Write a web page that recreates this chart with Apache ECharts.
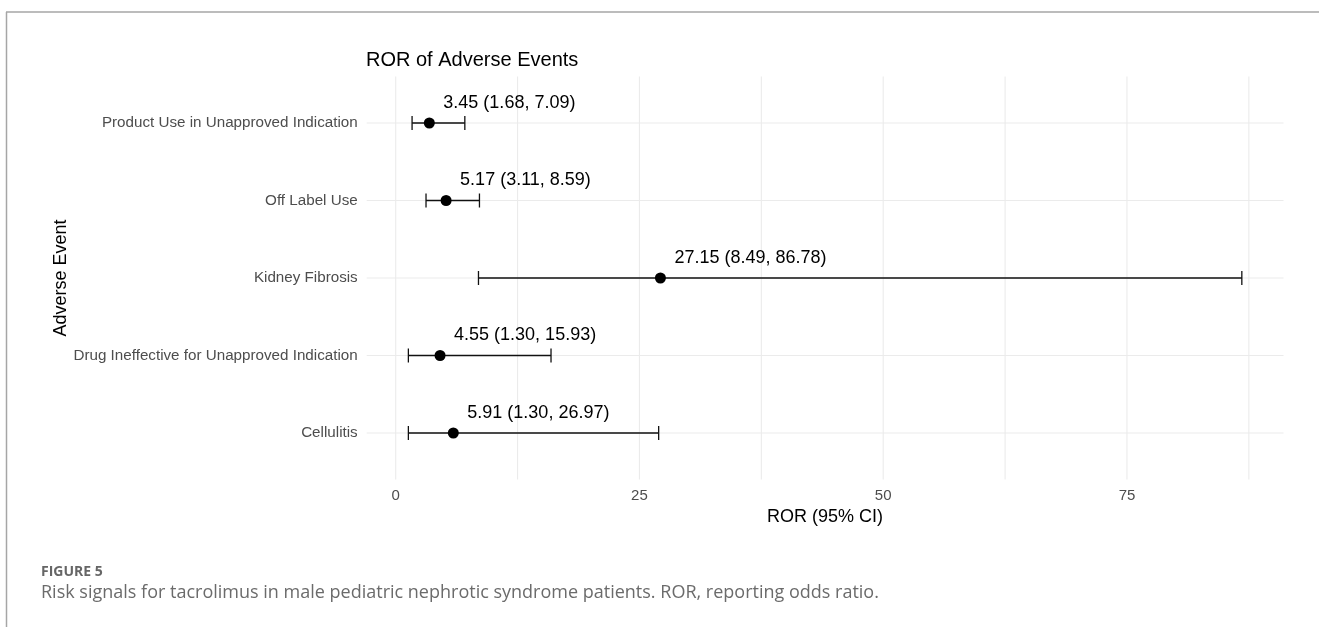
<!DOCTYPE html>
<html>
<head>
<meta charset="utf-8">
<script src="https://cdn.jsdelivr.net/npm/echarts@6/dist/echarts.min.js"></script>
<style>
html,body{margin:0;padding:0;background:#fff;}
#chart{width:1319px;height:627px;}
</style>
</head>
<body>
<div id="chart"></div>
<script>
const categories = ['Product Use in Unapproved Indication','Off Label Use','Kidney Fibrosis','Drug Ineffective for Unapproved Indication','Cellulitis'];
const ror   = [3.45, 5.17, 27.15, 4.55, 5.91];
const lower = [1.68, 3.11, 8.49, 1.30, 1.30];
const upper = [7.09, 8.59, 86.78, 15.93, 26.97];
const xTickLabels = [0, 25, 50, 75];
const xMinorGrid = [12.5, 37.5, 62.5, 87.5];

const dataMin = Math.min(...lower), dataMax = Math.max(...upper);
const span = dataMax - dataMin;
const xMin = dataMin - 0.05 * span, xMax = dataMax + 0.05 * span;
const yMin = -0.6, yMax = categories.length - 1 + 0.6;

const gridData = [];
xTickLabels.concat(xMinorGrid).forEach(v => gridData.push([0, v]));
categories.forEach((c, i) => gridData.push([1, i]));

const errData = categories.map((c, i) => [i, lower[i], upper[i]]);
const pointData = categories.map((c, i) => [ror[i], i]);
const labelText = categories.map((c, i) => ror[i].toFixed(2) + ' (' + lower[i].toFixed(2) + ', ' + upper[i].toFixed(2) + ')');

const FONT = '"Liberation Sans", Arial, sans-serif';
const chart = echarts.init(document.getElementById('chart'));
chart.setOption({
  animation: false,
  title: {
    text: 'ROR of Adverse Events',
    left: 366, top: 50, padding: 0,
    textStyle: {fontFamily: FONT, fontSize: 20, fontWeight: 'normal', color: '#000'}
  },
  grid: {left: 366.7, width: 916.8, top: 76.5, height: 403},
  xAxis: {
    type: 'value', min: xMin, max: xMax,
    axisLine: {show: false}, axisTick: {show: false}, splitLine: {show: false},
    axisLabel: {customValues: xTickLabels, fontFamily: FONT, fontSize: 15, color: '#4d4d4d', margin: 9},
    name: 'ROR (95% CI)', nameLocation: 'middle', nameGap: 28,
    nameTextStyle: {fontFamily: FONT, fontSize: 18, color: '#000'}
  },
  yAxis: {
    type: 'value', min: yMin, max: yMax, inverse: true,
    axisLine: {show: false}, axisTick: {show: false}, splitLine: {show: false},
    axisLabel: {customValues: categories.map((c, i) => i), formatter: v => categories[v] || '',
      fontFamily: FONT, fontSize: 15.2, color: '#4d4d4d', margin: 9}
  },
  graphic: [
    {type: 'line', shape: {x1: 6, y1: 12, x2: 1319, y2: 12}, style: {stroke: '#a6a6a6', lineWidth: 1.5}, silent: true},
    {type: 'line', shape: {x1: 6.5, y1: 12, x2: 6.5, y2: 627}, style: {stroke: '#a6a6a6', lineWidth: 1.5}, silent: true},
    {type: 'text', x: 61, y: 278, rotation: Math.PI / 2,
      style: {text: 'Adverse Event', fontFamily: FONT, fontSize: 18, fill: '#000', align: 'center', verticalAlign: 'middle'}},
    {type: 'text', x: 41, y: 572,
      style: {text: 'FIGURE 5', fontFamily: '"Open Sans", sans-serif', fontSize: 14, fontWeight: 'bold', fill: '#666', verticalAlign: 'middle'}},
    {type: 'text', x: 41, y: 593,
      style: {text: 'Risk signals for tacrolimus in male pediatric nephrotic syndrome patients. ROR, reporting odds ratio.',
        fontFamily: '"Open Sans", sans-serif', fontSize: 18, fill: '#6b6b6b', verticalAlign: 'middle'}}
  ],
  series: [
    {
      type: 'custom', silent: true, z: 1,
      data: gridData,
      renderItem: function (params, api) {
        const t = api.value(0), v = api.value(1);
        let p1, p2;
        if (t === 0) { p1 = api.coord([v, yMin]); p2 = api.coord([v, yMax]); }
        else { p1 = api.coord([xMin, v]); p2 = api.coord([xMax, v]); }
        return {type: 'line', shape: {x1: p1[0], y1: p1[1], x2: p2[0], y2: p2[1]},
          style: {stroke: '#ebebeb', lineWidth: 1.1}};
      }
    },
    {
      type: 'custom', silent: true, z: 3,
      encode: {x: [1, 2], y: 0},
      data: errData,
      renderItem: function (params, api) {
        const i = api.value(0);
        const a = api.coord([api.value(1), i]);
        const b = api.coord([api.value(2), i]);
        const h = 7;
        const st = {stroke: '#111', lineWidth: 1.3};
        return {type: 'group', children: [
          {type: 'line', shape: {x1: a[0], y1: a[1], x2: b[0], y2: b[1]}, style: st},
          {type: 'line', shape: {x1: a[0], y1: a[1] - h, x2: a[0], y2: a[1] + h}, style: st},
          {type: 'line', shape: {x1: b[0], y1: b[1] - h, x2: b[0], y2: b[1] + h}, style: st}
        ]};
      }
    },
    {
      type: 'scatter', z: 5, symbol: 'circle', symbolSize: 11,
      itemStyle: {color: '#000', opacity: 1},
      data: pointData,
      label: {
        show: true, position: 'inside', align: 'left', verticalAlign: 'middle', offset: [14, -20],
        formatter: p => labelText[p.dataIndex],
        fontFamily: FONT, fontSize: 18, color: '#000'
      }
    }
  ]
});
</script>
</body>
</html>
